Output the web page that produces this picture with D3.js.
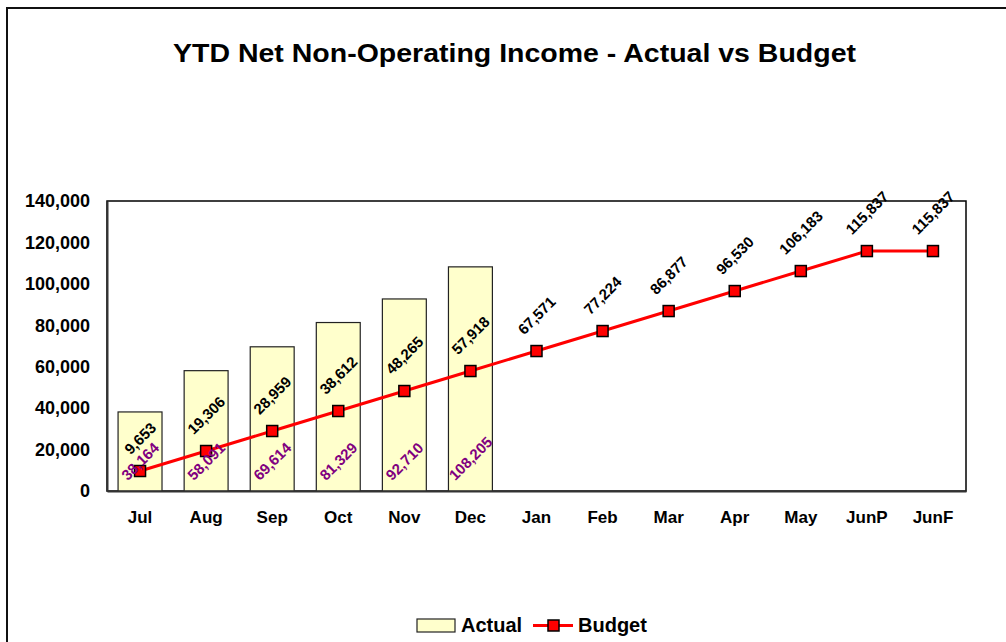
<!DOCTYPE html>
<html>
<head>
<meta charset="utf-8">
<script src="https://cdn.jsdelivr.net/npm/d3@7"></script>
<style>
  body { margin: 0; background: #fff; }
  svg { display: block; font-family: "Liberation Sans", Arial, sans-serif; font-weight: bold; }
</style>
</head>
<body>
<svg width="1006" height="642"></svg>
<script>
const months = ["Jul","Aug","Sep","Oct","Nov","Dec","Jan","Feb","Mar","Apr","May","JunP","JunF"];
const actual = [38164, 58091, 69614, 81329, 92710, 108205];
const budget = [9653, 19306, 28959, 38612, 48265, 57918, 67571, 77224, 86877, 96530, 106183, 115837, 115837];
const yTicks = [0, 20000, 40000, 60000, 80000, 100000, 120000, 140000];

const svg = d3.select("svg");
const plotL = 107, plotR = 966, plotT = 201, plotB = 491;
const fmt = d3.format(",");

// outer chart frame (runs off the picture at right/bottom)
svg.append("rect")
   .attr("x", 7).attr("y", 8).attr("width", 1010).attr("height", 650)
   .attr("fill", "#fff").attr("stroke", "#111").attr("stroke-width", 2);

// title
svg.append("text")
   .attr("x", 173).attr("y", 62)
   .attr("font-size", "26px")
   .attr("textLength", 683).attr("lengthAdjust", "spacingAndGlyphs")
   .text("YTD Net Non-Operating Income - Actual vs Budget");

const x = d3.scaleBand().domain(months).range([plotL, plotR]);
const xBar = d3.scaleBand().domain(months).range([plotL, plotR])
               .paddingInner(0.335).paddingOuter(0.1675);
const y = d3.scaleLinear().domain([0, 140000]).range([plotB, plotT]);
const cx = m => x(m) + x.bandwidth() / 2;

// plot area frame
svg.append("rect")
   .attr("x", plotL).attr("y", plotT).attr("width", plotR - plotL).attr("height", plotB - plotT)
   .attr("fill", "none").attr("stroke", "#000").attr("stroke-width", 1.5);

// bars
svg.append("g").selectAll("rect")
   .data(actual)
   .join("rect")
   .attr("x", (d, i) => xBar(months[i]))
   .attr("y", d => y(d))
   .attr("width", xBar.bandwidth())
   .attr("height", d => plotB - y(d))
   .attr("fill", "#FFFFCC")
   .attr("stroke", "#222")
   .attr("stroke-width", 1.2);

// axes
const yAxis = svg.append("g")
   .attr("transform", "translate(" + plotL + ",0)")
   .call(d3.axisLeft(y).tickValues(yTicks).tickFormat(fmt).tickSize(0).tickPadding(17));
yAxis.selectAll("text").attr("font-size", "18px").attr("fill", "#000")
     .attr("font-family", "Liberation Sans, Arial, sans-serif").attr("font-weight", "bold");
yAxis.select(".domain").attr("stroke", "#333").attr("stroke-width", 2);

const xAxis = svg.append("g")
   .attr("transform", "translate(0," + plotB + ")")
   .call(d3.axisBottom(x).tickSize(0).tickPadding(20));
xAxis.selectAll("text").attr("font-size", "17px").attr("fill", "#000")
     .attr("font-family", "Liberation Sans, Arial, sans-serif").attr("font-weight", "bold");
xAxis.select(".domain").attr("stroke", "#333").attr("stroke-width", 2);

// budget line
const line = d3.line().x((d, i) => cx(months[i])).y(d => y(d));
svg.append("path")
   .datum(budget)
   .attr("d", line)
   .attr("fill", "none")
   .attr("stroke", "#FF0000")
   .attr("stroke-width", 3);

svg.append("g").selectAll("rect")
   .data(budget)
   .join("rect")
   .attr("x", (d, i) => cx(months[i]) - 5.5)
   .attr("y", d => y(d) - 5.5)
   .attr("width", 11).attr("height", 11)
   .attr("fill", "#FF0000")
   .attr("stroke", "#000")
   .attr("stroke-width", 1.5);

// rotated labels: place centre so the rotated box sits a gap away from the anchor
function rotLabel(g, txt, px, anchorY, gap, colour) {
  const t = g.append("text")
     .attr("font-size", "15px")
     .attr("fill", colour)
     .attr("text-anchor", "middle")
     .attr("dominant-baseline", "central")
     .text(txt);
  const L = t.node().getComputedTextLength();
  const half = (L + 10) * 0.7071 / 2;
  t.attr("transform", "translate(" + px + "," + (anchorY - gap - half) + ") rotate(-45)");
}

const labels = svg.append("g");
actual.forEach((d, i) => rotLabel(labels, fmt(d), cx(months[i]), plotB, 10, "#800080"));
budget.forEach((d, i) => rotLabel(labels, fmt(d), cx(months[i]), y(d), 16, "#000"));

// legend
const lg = svg.append("g");
lg.append("rect")
  .attr("x", 417).attr("y", 619).attr("width", 38).attr("height", 13)
  .attr("fill", "#FFFFCC").attr("stroke", "#222").attr("stroke-width", 1.2);
lg.append("text").attr("x", 461).attr("y", 632).attr("font-size", "20px").text("Actual");
lg.append("line")
  .attr("x1", 533).attr("x2", 573).attr("y1", 625.5).attr("y2", 625.5)
  .attr("stroke", "#FF0000").attr("stroke-width", 3);
lg.append("rect")
  .attr("x", 548).attr("y", 620).attr("width", 11).attr("height", 11)
  .attr("fill", "#FF0000").attr("stroke", "#000").attr("stroke-width", 1.5);
lg.append("text").attr("x", 578).attr("y", 632).attr("font-size", "20px").text("Budget");
</script>
</body>
</html>
